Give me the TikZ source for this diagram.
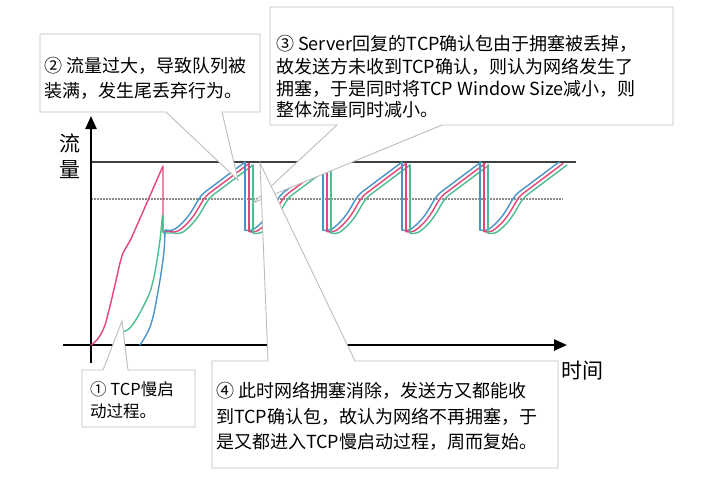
\documentclass[tikz,border=0pt]{standalone}
\usepackage{fontspec}
\setmainfont{Noto Sans CJK SC}
\usetikzlibrary{arrows.meta}
\definecolor{cred}{HTML}{E6457A}
\definecolor{cgreen}{HTML}{4DBE8E}
\definecolor{cblue}{HTML}{4A93C8}
\definecolor{cborder}{HTML}{BDBDBD}
\definecolor{ctop}{HTML}{404040}
\definecolor{cdot}{HTML}{8C8C8C}
\begin{document}
\begin{tikzpicture}[x=1pt,y=-1pt,
  axis/.style={line width=2.4pt,black,-{Triangle[length=13pt,width=11pt]}},
  curve/.style={line width=1.4pt,line join=round,line cap=round},
  callout/.style={draw=cborder,fill=white,line width=0.9pt,line join=miter},
  txt/.style={anchor=base west,inner sep=0pt,font=\fontsize{18}{18}\selectfont},
  stxt/.style={anchor=base west,inner sep=0pt,font=\fontsize{16.5}{16.5}\selectfont},
  lbl/.style={anchor=center,inner sep=0pt,font=\fontsize{21}{21}\selectfont}]
\useasboundingbox (0,0) rectangle (719,487);
\fill[white] (0,0) rectangle (719,487);

% reference lines
\coordinate (topL) at (91,162); \coordinate (topR) at (576,162);
\coordinate (dotL) at (91,199); \coordinate (dotR) at (563,199);
\draw[line width=1.8pt,ctop] (topL) -- (topR);
\draw[line width=1.6pt,cdot,dash pattern=on 1.6pt off 1.4pt] (dotL) -- (dotR);

% axes
\coordinate (xs) at (63,345); \coordinate (xe) at (567,345);
\coordinate (ys) at (91,363); \coordinate (ye) at (91,116);
\draw[axis] (xs) -- (xe);
\draw[axis] (ys) -- (ye);

% curves: initial phases
\draw[curve,cred] plot[smooth,tension=0.5] coordinates {(91,345) (96,341) (101,334) (105,325) (108,314) (111,302) (114,289) (117,276) (120,263) (123,253) (127,246) (131,239)} -- (163,166) -- (163,231.5) -- (170,231.5);
\draw[curve,cgreen] plot[smooth,tension=0.5] coordinates {(123,332) (130,328) (137,318) (144,305) (150,292) (154,277) (157,260) (160,240) (162.5,215)} -- (163,233) -- (174,233);
\draw[curve,cblue] plot[smooth,tension=0.5] coordinates {(140,345) (145,337) (150,327) (154,313) (157,297) (160,280) (163,260) (164.5,245) (165,230)} -- (166,230);

% ramps (first one starts after the initial phase, the others follow a drop)
\foreach \xo/\dr in {166/0,245/1,323/1,402/1,480/1}{
  \foreach \col/\dx/\yb in {cblue/0/230,cred/4/231.5,cgreen/8/233}{
    \ifnum\dr=1
      \draw[curve,\col,shift={(\xo+\dx,\yb)}] (0,-68) -- (0,0);
    \fi
    \draw[curve,\col,shift={(\xo+\dx,\yb)}] plot[smooth,tension=0.55] coordinates {(0,0) (4,0.5) (9,-1) (14,-5) (19,-10) (23,-15) (27,-21) (31,-28) (35,-34) (39,-38) (43,-41) (79,-68)};
  }
}

% axis labels
\node[lbl] (yl1) at (70,143) {流};
\node[lbl] (yl2) at (70,170) {量};
\node[lbl] (xl) at (582,371) {时间};

% callout 2
\draw[callout] (40,34) -- (260,34) -- (260,112) -- (222,112) -- (238,180) -- (166,112) -- (40,112) -- cycle;
\node[txt] (c2a) at (44,72) {② 流量过大，导致队列被};
\node[txt] (c2b) at (44,97) {装满，发生尾丢弃行为。};

% callout 3
\draw[callout] (270,7) -- (673,7) -- (673,125) -- (442,125) -- (253,203) -- (337,125) -- (270,125) -- cycle;
\node[txt] (c3a) at (276,51) {③ Server回复的TCP确认包由于拥塞被丢掉，};
\node[txt] (c3b) at (276,73) {故发送方未收到TCP确认，则认为网络发生了};
\node[txt] (c3c) at (276,95) {拥塞，于是同时将TCP Window Size减小，则};
\node[txt] (c3d) at (276,116) {整体流量同时减小。};

% callout 1
\draw[callout] (82,370) -- (103,370) -- (122,321) -- (128,370) -- (195,370) -- (195,427) -- (82,427) -- cycle;
\node[stxt] (c1a) at (90,395) {① TCP慢启};
\node[stxt] (c1b) at (90,417) {动过程。};

% callout 4
\draw[callout] (212,361) -- (268,361) -- (260,163) -- (355,361) -- (558,361) -- (558,468) -- (212,468) -- cycle;
\node[txt] (c4a) at (216,397) {④ 此时网络拥塞消除，发送方又都能收};
\node[txt] (c4b) at (216,423) {到TCP确认包，故认为网络不再拥塞，于};
\node[txt] (c4c) at (216,448) {是又都进入TCP慢启动过程，周而复始。};
\end{tikzpicture}
\end{document}
